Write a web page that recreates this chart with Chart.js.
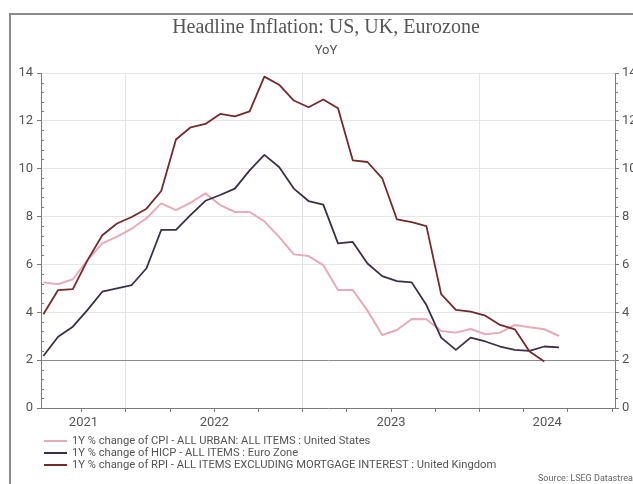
<!DOCTYPE html>
<html>
<head>
<meta charset="utf-8">
<script src="https://cdn.jsdelivr.net/npm/chart.js@4.4.1/dist/chart.umd.min.js"></script>
<style>
html,body{margin:0;padding:0;background:#fff;overflow:hidden;width:633px;height:484px;}
#wrap{position:relative;width:633px;height:484px;overflow:hidden;background:#fff;}
#frame{position:absolute;left:9px;top:13px;width:700px;height:600px;border:2px solid #8a8a8a;box-sizing:border-box;}
#c{position:absolute;left:0;top:0;}
#title{position:absolute;left:0;width:652px;top:16px;text-align:center;font:20px/20px "Liberation Serif",serif;color:#555;white-space:nowrap;}
#sub{position:absolute;left:0;width:652px;top:43px;text-align:center;font:13px/13px Roboto,sans-serif;color:#555;}
#legend{position:absolute;left:44px;top:435px;font:11.2px/12.2px Roboto,sans-serif;color:#555;}
#legend .row{display:flex;align-items:center;height:12.2px;white-space:nowrap;}
#legend .sw{display:inline-block;width:23px;height:2px;margin-right:5px;}
#source{position:absolute;left:538px;top:473px;font:9px/10px Roboto,sans-serif;color:#666;white-space:nowrap;}
</style>
</head>
<body>
<div id="wrap">
  <div id="frame"></div>
  <canvas id="c" width="645" height="484"></canvas>
  <div id="title">Headline Inflation: US, UK, Eurozone</div>
  <div id="sub">YoY</div>
  <div id="legend"></div>
  <div id="source">Source: LSEG Datastream</div>
</div>
<script>
// ---- data (monthly, YoY %) ----
const months = ['2021-07','2021-08','2021-09','2021-10','2021-11','2021-12',
  '2022-01','2022-02','2022-03','2022-04','2022-05','2022-06','2022-07','2022-08','2022-09','2022-10','2022-11','2022-12',
  '2023-01','2023-02','2023-03','2023-04','2023-05','2023-06','2023-07','2023-08','2023-09','2023-10','2023-11','2023-12',
  '2024-01','2024-02','2024-03','2024-04','2024-05','2024-06'];
const usCPI = [5.25,5.17,5.38,6.18,6.88,7.16,7.5,7.93,8.55,8.27,8.58,8.97,
  8.48,8.19,8.19,7.8,7.15,6.42,6.35,5.97,4.93,4.93,4.07,3.05,
  3.26,3.72,3.71,3.22,3.15,3.3,3.08,3.15,3.47,3.37,3.29,3.01];
const euroHICP = [2.17,2.98,3.4,4.1,4.86,5.0,5.14,5.84,7.44,7.44,8.07,8.66,
  8.9,9.17,9.93,10.58,10.07,9.17,8.65,8.5,6.88,6.94,6.04,5.51,
  5.3,5.25,4.3,2.94,2.43,2.94,2.78,2.57,2.43,2.39,2.57,2.53];
const ukRPIX = [3.92,4.93,4.97,6.18,7.22,7.71,7.98,8.33,9.07,11.22,11.73,11.87,
  12.29,12.19,12.4,13.85,13.51,12.85,12.57,12.89,12.53,10.35,10.28,9.6,
  7.88,7.77,7.6,4.76,4.1,4.03,3.86,3.47,3.29,2.36,1.94];
const seriesLabels = [
  '1Y % change of CPI - ALL URBAN: ALL ITEMS : United States',
  '1Y % change of HICP - ALL ITEMS : Euro Zone',
  '1Y % change of RPI - ALL ITEMS EXCLUDING MORTGAGE INTEREST : United Kingdom'
];
const yTickValues = [0,2,4,6,8,10,12,14];
const yearLabels = ['2021','2022','2023','2024'];

// ---- helpers ----
const obsOffset = 0.4; // monthly observation sits a little after the month start
function monthIndex(s){const [y,m]=s.split('-').map(Number);return (y-2021)*12+(m-7);}
function dateIndex(y,m){return (y-2021)*12+(m-7)-obsOffset;}
function toPoints(vals){return vals.map((v,i)=>({x:monthIndex(months[i]),y:v}));}

const xMin = -0.16, xMax = 38.8;
const quarterTicks = [];
for (let y=2021;y<=2024;y++) for (const m of [1,4,7,10]) {
  const v = dateIndex(y,m);
  if (v>=xMin && v<=xMax) quarterTicks.push(v);
}
const labelTicks = {};
yearLabels.forEach(yl=>{
  const y=Number(yl);
  const a=Math.max(dateIndex(y,1),xMin), b=Math.min(dateIndex(y+1,1),xMax);
  labelTicks[((a+b)/2).toFixed(4)] = yl;
});
const isJan = v => yearLabels.some(yl=>Math.abs(dateIndex(Number(yl),1)-v)<1e-6);
const labelFor = v => labelTicks[Number(v).toFixed(4)];

const colors = ['#e8aab7','#3a3042','#732a2b'];
const datasets = [usCPI,euroHICP,ukRPIX].map((vals,i)=>({
  label: seriesLabels[i],
  data: toPoints(vals),
  borderColor: colors[i],
  backgroundColor: colors[i],
  borderWidth: i===0?2:1.8,
  pointRadius: 0,
  tension: 0,
  borderJoinStyle: 'round',
  order: i===0?3:(i===1?2:1)
}));

// legend (html text)
const lg=document.getElementById('legend');
datasets.forEach(d=>{
  const r=document.createElement('div');r.className='row';
  const s=document.createElement('span');s.className='sw';s.style.background=d.borderColor;
  const t=document.createElement('span');t.textContent=d.label;
  r.appendChild(s);r.appendChild(t);lg.appendChild(r);
});

const minorTicks = {
  id:'minorTicks',
  afterDraw(chart){
    const ctx=chart.ctx;
    ['y','y2'].forEach(id=>{
      const s=chart.scales[id];
      const x = id==='y'? s.right : s.left;
      ctx.save();ctx.strokeStyle='#7a7a7a';ctx.lineWidth=1;ctx.beginPath();
      for(let k=0;k<=35;k++){
        if(k%5===0) continue;
        const py=Math.round(s.getPixelForValue(k*0.4))+0.5;
        ctx.moveTo(x,py);ctx.lineTo(x+3,py);
      }
      ctx.stroke();ctx.restore();
    });
  }
};

const tickFont = {family:'Roboto', size:13};
new Chart(document.getElementById('c'), {
  type:'line',
  data:{datasets},
  plugins:[minorTicks],
  options:{
    responsive:false, animation:false, devicePixelRatio:1,
    layout:{padding:{top:73,bottom:48,left:0,right:0}},
    plugins:{legend:{display:false},title:{display:false},tooltip:{enabled:false}},
    scales:{
      x:{
        type:'linear', min:xMin, max:xMax,
        afterBuildTicks(s){
          const keys=new Set([...quarterTicks, ...Object.keys(labelTicks).map(Number)].map(v=>v.toFixed(4)));
          s.ticks=[...keys].map(Number).sort((a,b)=>a-b).map(v=>({value:v}));
        },
        afterFit(s){s.height=28;},
        ticks:{autoSkip:false,maxRotation:0,padding:3,color:'#555',font:tickFont,
          callback:(v)=>labelFor(v)||''},
        grid:{
          color:(c)=> (c.tick && isJan(c.tick.value)) ? '#e3e3e3' : 'rgba(0,0,0,0)',
          tickColor:(c)=> (c.tick && labelFor(c.tick.value) && !quarterTicks.some(q=>Math.abs(q-c.tick.value)<1e-4)) ? 'rgba(0,0,0,0)' : '#7a7a7a',
          tickLength:4, lineWidth:1
        },
        border:{display:true,color:'#7a7a7a',width:1}
      },
      y:{
        position:'left', min:0, max:14,
        afterBuildTicks(s){s.ticks=yTickValues.map(v=>({value:v}));},
        afterFit(s){s.width=41;},
        ticks:{padding:4,color:'#555',font:tickFont},
        grid:{
          color:(c)=> c.tick && c.tick.value===2 ? '#8a8a8a' : (c.tick && c.tick.value===0 ? 'rgba(0,0,0,0)' : '#e6e6e6'),
          tickColor:'#7a7a7a', tickLength:4, lineWidth:1
        },
        border:{display:true,color:'#7a7a7a',width:1}
      },
      y2:{
        position:'right', min:0, max:14,
        afterBuildTicks(s){s.ticks=yTickValues.map(v=>({value:v}));},
        afterFit(s){s.width=30;},
        ticks:{padding:3,color:'#555',font:tickFont},
        grid:{drawOnChartArea:false,tickColor:'#7a7a7a',tickLength:4},
        border:{display:true,color:'#7a7a7a',width:1}
      }
    }
  }
});
</script>
</body>
</html>
